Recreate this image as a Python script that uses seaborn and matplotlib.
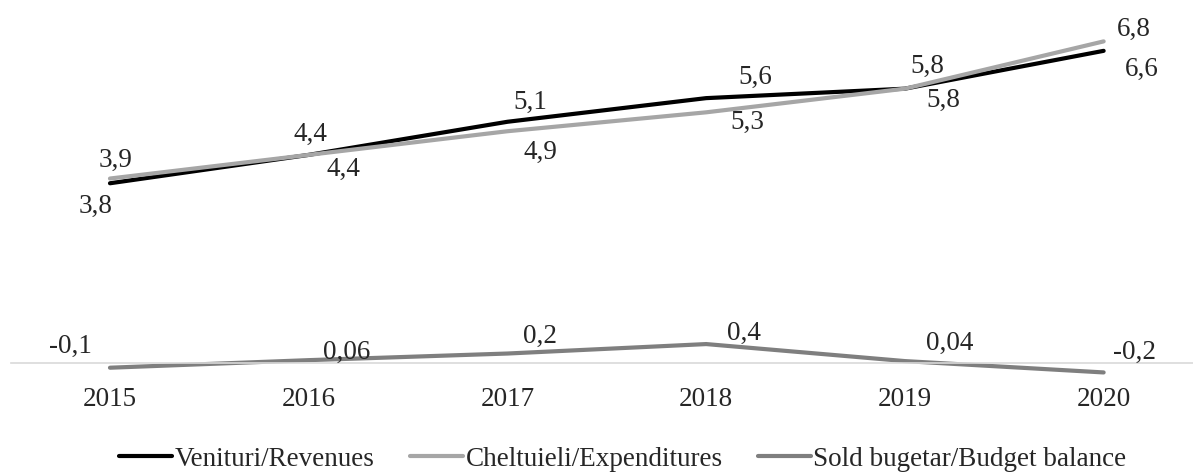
import matplotlib
matplotlib.use("Agg")
import matplotlib.pyplot as plt
import numpy as np
import pandas as pd
import seaborn as sns

ani = ["2015", "2016", "2017", "2018", "2019", "2020"]
venituri = [3.8, 4.4, 5.1, 5.6, 5.8, 6.6]
cheltuieli = [3.9, 4.4, 4.9, 5.3, 5.8, 6.8]
sold = [-0.1, 0.06, 0.2, 0.4, 0.04, -0.2]

serii = ["Venituri/Revenues", "Cheltuieli/Expenditures", "Sold bugetar/Budget balance"]
culori = ["#000000", "#a6a6a6", "#7f7f7f"]

# deplasarea etichetelor fata de punct (pixeli)
off_ven = [(-14, -23), (2, 20), (23, 19), (49, 21), (38, -12), (38, -19)]
off_chel = [(6, 18), (35, -15), (33, -21), (41, -10), (22, 22), (30, 12)]
off_sold = [(-40, 21), (38, 8), (33, 17), (38, 11), (45, 18), (31, 20)]

df = pd.DataFrame({
    "an": ani * 3,
    "valoare": venituri + cheltuieli + sold,
    "serie": np.repeat(serii, len(ani)),
})

sns.set_style("white")
plt.rcParams["font.family"] = ["Liberation Serif", "DejaVu Serif"]
fs = 19.5

fig = plt.figure(figsize=(11.93, 4.72), dpi=100)
ax = fig.add_axes([0.00889, 0.1508, 0.9995, 0.8417])

sns.lineplot(data=df, x="an", y="valoare", hue="serie", hue_order=serii,
             palette=culori, linewidth=3, sort=False, ax=ax,
             solid_capstyle="round")

ax.set_xlim(-0.5, 5.5)
ax.set_ylim(-0.8, 7.6)
ax.set_xlabel("")
ax.set_ylabel("")
ax.set_yticks([])
for s in ["top", "right", "left"]:
    ax.spines[s].set_visible(False)
ax.spines["bottom"].set_position(("data", 0))
ax.spines["bottom"].set_color("#d9d9d9")
ax.spines["bottom"].set_linewidth(1.2)
ax.tick_params(axis="x", length=0, pad=17, labelsize=fs)

for vals, offs in [(venituri, off_ven), (cheltuieli, off_chel), (sold, off_sold)]:
    for i, v in enumerate(vals):
        ax.annotate(f"{v:g}".replace(".", ","), (i, v), xytext=offs[i],
                    textcoords="offset pixels", ha="center", va="center",
                    fontsize=fs)

handles, labels = ax.get_legend_handles_labels()
ax.get_legend().remove()
fig.legend(handles, labels, loc="center", bbox_to_anchor=(623 / 1193, 1 - 459 / 472),
           ncol=3, frameon=False, fontsize=fs, handlelength=1.95,
           handletextpad=0.1, columnspacing=1.3, borderpad=0, borderaxespad=0)

fig.savefig("out.png", dpi=100)
